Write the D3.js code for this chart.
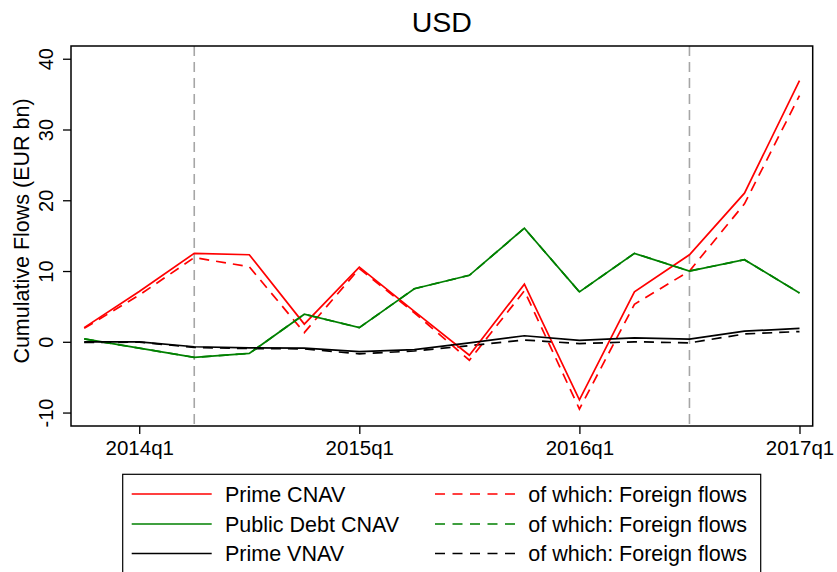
<!DOCTYPE html>
<html>
<head>
<meta charset="utf-8">
<script src="https://cdn.jsdelivr.net/npm/d3@7"></script>
<style>
  body { margin: 0; background: #fff; }
  svg { font-family: Arial, "Liberation Sans", Helvetica, sans-serif; }
</style>
</head>
<body>
<div id="chart"></div>
<script>
// quarters 2013q4 .. 2017q1
const quarters = ["2013q4","2014q1","2014q2","2014q3","2014q4","2015q1","2015q2","2015q3","2015q4","2016q1","2016q2","2016q3","2016q4","2017q1"];
const tickQuarters = ["2014q1","2015q1","2016q1","2017q1"];
const markerQuarters = ["2014q2","2016q3"];
const yTicks = [-10, 0, 10, 20, 30, 40];

const primeCnav        = [2.0, 7.1, 12.5, 12.3, 2.5, 10.55, 4.3, -1.9, 8.15, -8.2, 7.05, 12.3, 21.0, 36.9];
const primeCnavForeign = [1.9, 6.6, 11.9, 10.6, 1.3, 10.35, 4.1, -2.6, 7.2, -9.5, 5.3, 10.0, 19.5, 34.8];
const publicDebt       = [0.4, -0.9, -2.2, -1.65, 3.9, 2.0, 7.5, 9.4, 16.05, 7.05, 12.5, 10.0, 11.6, 6.9];
const publicDebtForeign= [0.4, -0.9, -2.2, -1.65, 3.9, 2.0, 7.5, 9.4, 16.05, 7.05, 12.5, 10.0, 11.6, 6.9];
const primeVnav        = [0.0, 0.0, -0.7, -0.85, -0.9, -1.4, -1.1, -0.15, 0.85, 0.2, 0.55, 0.38, 1.5, 1.9];
const primeVnavForeign = [-0.1, -0.05, -0.8, -0.95, -1.0, -1.7, -1.3, -0.55, 0.25, -0.25, 0.0, -0.15, 1.1, 1.45];

const seriesNames = ["Prime CNAV", "Public Debt CNAV", "Prime VNAV"];
const seriesColors = ["#ff0000", "#008000", "#000000"];

const series = [
  { values: primeCnav, color: seriesColors[0], dashed: false },
  { values: primeCnavForeign, color: seriesColors[0], dashed: true },
  { values: publicDebt, color: seriesColors[1], dashed: false },
  { values: publicDebtForeign, color: seriesColors[1], dashed: true },
  { values: primeVnav, color: seriesColors[2], dashed: false },
  { values: primeVnavForeign, color: seriesColors[2], dashed: true }
];

const W = 837, H = 572;
const margin = { top: 46, right: 24.3, bottom: 146, left: 71 };

const svg = d3.select("#chart").append("svg")
  .attr("width", W).attr("height", H);

const x = d3.scaleLinear()
  .domain([-0.24, 13.24])
  .range([margin.left, W - margin.right]);
const y = d3.scaleLinear()
  .domain([-11.9, 41.8])
  .range([H - margin.bottom, margin.top]);
const qx = q => x(quarters.indexOf(q));

// title
svg.append("text")
  .attr("x", (margin.left + W - margin.right) / 2)
  .attr("y", 32)
  .attr("text-anchor", "middle")
  .style("font-size", "28.5px")
  .text("USD");

// reference lines
svg.append("g").selectAll("line")
  .data(markerQuarters)
  .enter().append("line")
  .attr("x1", d => qx(d)).attr("x2", d => qx(d))
  .attr("y1", y.range()[1]).attr("y2", y.range()[0])
  .attr("stroke", "#a6a6a6")
  .attr("stroke-width", 1.6)
  .attr("stroke-dasharray", "10,6");

// data lines (dashed drawn first)
const line = d3.line()
  .x((d, i) => x(i))
  .y(d => y(d));

const order = [1, 3, 5, 0, 2, 4];
svg.append("g").selectAll("path")
  .data(order.map(i => series[i]))
  .enter().append("path")
  .attr("d", d => line(d.values))
  .attr("fill", "none")
  .attr("stroke", d => d.color)
  .attr("stroke-width", 1.7)
  .attr("stroke-linejoin", "miter")
  .attr("stroke-dasharray", d => d.dashed ? "10,7" : null);

// frame
svg.append("rect")
  .attr("x", margin.left).attr("y", margin.top)
  .attr("width", W - margin.right - margin.left)
  .attr("height", H - margin.bottom - margin.top)
  .attr("fill", "none")
  .attr("stroke", "#000")
  .attr("stroke-width", 1.5);

// y axis
const yAxis = svg.append("g")
  .attr("transform", `translate(${margin.left},0)`)
  .call(d3.axisLeft(y).tickValues(yTicks).tickSize(8).tickFormat(d => String(d)));
yAxis.select(".domain").remove();
yAxis.selectAll("line").attr("stroke-width", 1.3);
yAxis.selectAll("text")
  .attr("x", 0).attr("dy", 0)
  .attr("transform", "translate(-18,0) rotate(-90)")
  .style("text-anchor", "middle")
  .style("font-size", "20px")
  .style("font-family", "Arial, 'Liberation Sans', sans-serif")
  .attr("fill", "#000");

// x axis
const xAxis = svg.append("g")
  .attr("transform", `translate(0,${H - margin.bottom})`)
  .call(d3.axisBottom(x)
    .tickValues(tickQuarters.map(q => quarters.indexOf(q)))
    .tickFormat(i => quarters[i])
    .tickSize(8));
xAxis.select(".domain").remove();
xAxis.selectAll("line").attr("stroke-width", 1.3);
xAxis.selectAll("text")
  .attr("y", 29).attr("dy", 0)
  .style("font-size", "20.5px")
  .style("font-family", "Arial, 'Liberation Sans', sans-serif")
  .attr("fill", "#000");

// y axis title
svg.append("text")
  .attr("transform", `translate(29,231) rotate(-90)`)
  .attr("text-anchor", "middle")
  .style("font-size", "21.5px")
  .text("Cumulative Flows (EUR bn)");

// legend
const legend = svg.append("g");
legend.append("rect")
  .attr("x", 122.7).attr("y", 474.3)
  .attr("width", 638).attr("height", 120)
  .attr("fill", "#fff")
  .attr("stroke", "#000")
  .attr("stroke-width", 1.2);

const rowY = [494, 524, 553.5];
seriesNames.forEach((name, i) => {
  legend.append("line")
    .attr("x1", 131.7).attr("x2", 211.7)
    .attr("y1", rowY[i]).attr("y2", rowY[i])
    .attr("stroke", seriesColors[i]).attr("stroke-width", 1.7);
  legend.append("text")
    .attr("x", 225).attr("y", rowY[i] + 7.5)
    .style("font-size", "21.5px")
    .text(name);
  legend.append("line")
    .attr("x1", 435).attr("x2", 515)
    .attr("y1", rowY[i]).attr("y2", rowY[i])
    .attr("stroke", seriesColors[i]).attr("stroke-width", 1.7)
    .attr("stroke-dasharray", "10,7.5");
  legend.append("text")
    .attr("x", 528.3).attr("y", rowY[i] + 7.5)
    .style("font-size", "21.5px")
    .text("of which: Foreign flows");
});
</script>
</body>
</html>
